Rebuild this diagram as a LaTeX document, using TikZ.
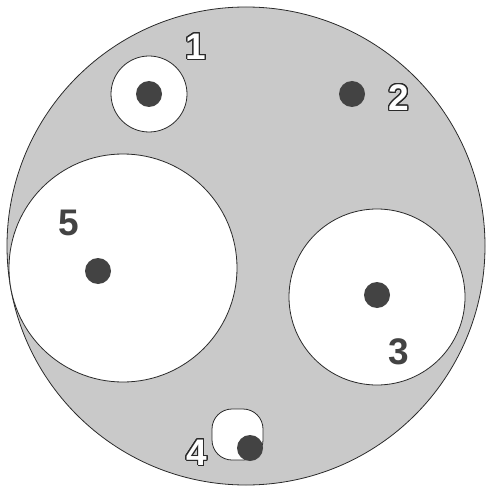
\documentclass[tikz,border=0pt]{standalone}
\usepackage{fontspec}
\setmainfont{Liberation Sans}
\usepackage{xcolor}
\usepackage{contour}
\usetikzlibrary{positioning}
\definecolor{plategray}{HTML}{C9C9C9}
\definecolor{dotgray}{HTML}{434343}
\definecolor{edgegray}{HTML}{2A2A2A}
\contourlength{1.1pt}
\contournumber{24}
\tikzset{
  plate/.style={
    circle,
    draw=edgegray,
    line width=0.8pt,
    fill=plategray,
    inner sep=0pt
  },
  hole/.style={
    circle,
    draw=edgegray,
    line width=0.8pt,
    fill=white,
    inner sep=0pt
  },
  pin/.style={
    circle,
    fill=dotgray,
    minimum size=26pt,
    inner sep=0pt
  },
  darknum/.style={
    font=\bfseries\fontsize{37}{37}\selectfont,
    text=dotgray,
    inner sep=0pt
  },
  outnum/.style={
    font=\bfseries\fontsize{37}{37}\selectfont,
    inner sep=0pt
  }
}
\newcommand{\hollownum}[1]{\contour{edgegray}{\textcolor{white}{#1}}}

\begin{document}
\begin{tikzpicture}[x=1pt,y=1pt]
\useasboundingbox (0,0) rectangle (489,488);

% plate and the holes cut in it
\node[plate, minimum size=478pt] (disc) at (246,242) {};
\node[hole, minimum size=76pt] (hole1) at (149,394) {};
\node[hole, minimum size=228pt] (hole5) at (123,220) {};
\node[hole, minimum size=176pt] (hole3) at (377,191) {};
\node[hole, rectangle, rounded corners=20pt, minimum size=51pt] (hole4) at (237.5,53.5) {};

% pins
\node[pin] (pin1) at (149,394) {};
\node[pin] (pin2) at (352,394) {};
\node[pin] (pin5) at (98,217) {};
\node[pin] (pin3) at (377,193) {};
\node[pin] (pin4) at (250,40) {};

% numbers
\node[outnum] (num1) at (196,441) {\hollownum{1}};
\node[outnum] (num2) at (399,390) {\hollownum{2}};
\node[outnum] (num4) at (197,35) {\hollownum{4}};
\node[darknum] (num5) at (69,265) {5};
\node[darknum] (num3) at (399,136) {3};
\end{tikzpicture}
\end{document}
